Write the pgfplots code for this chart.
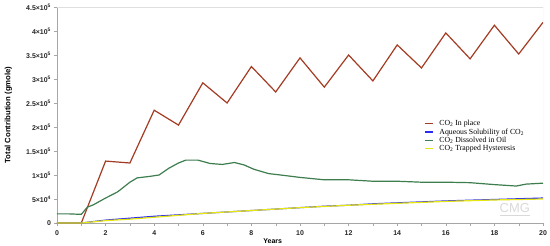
\documentclass[border=0pt]{standalone}
\usepackage{fontspec}
\setmainfont{Liberation Serif}
\setsansfont{Liberation Sans}
\usepackage{pgfplots}
\pgfplotsset{compat=1.18}
\usetikzlibrary{calc}
\definecolor{inplace}{HTML}{A33A22}
\definecolor{aqueous}{HTML}{2A2AF0}
\definecolor{oil}{HTML}{3E7D4E}
\definecolor{trapped}{HTML}{E6E612}

\begin{document}
\begin{tikzpicture}
\begin{axis}[
  name=ax,
  scale only axis,
  width=486bp, height=216bp,
  xmin=0, xmax=20, ymin=0, ymax=4.5e5,
  axis x line*=bottom, axis y line*=left,
  axis line style={gray!70, line width=0.5pt},
  tick align=outside, tick style={gray!70, line width=0.4pt},
  major tick length=2.5bp, minor tick length=2.5bp,
  xtick={0,2,...,20}, minor xtick={1,3,...,19},
  xticklabels={0,2,4,6,8,10,12,14,16,18,20},
  ytick={0,50000,100000,150000,200000,250000,300000,350000,400000,450000},
  yticklabels={0,5×10\textsuperscript{4},1×10\textsuperscript{5},1.5×10\textsuperscript{5},2×10\textsuperscript{5},2.5×10\textsuperscript{5},3×10\textsuperscript{5},3.5×10\textsuperscript{5},4×10\textsuperscript{5},4.5×10\textsuperscript{5}},
  scaled y ticks=false,
  tick label style={font=\sffamily\bfseries\fontsize{7}{8}\selectfont, text=black!85},
  xticklabel style={yshift=-1.5bp},
  xlabel={Years}, ylabel={Total Contribution (gmole)},
  xlabel style={font=\sffamily\bfseries\fontsize{7}{8}\selectfont,
    at={(axis description cs:0.444,0)}, anchor=center, yshift=-18bp},
  ylabel style={font=\sffamily\bfseries\fontsize{7.8}{9}\selectfont,
    at={(axis description cs:-0.1,0.5)}, anchor=center, rotate=0},
  legend style={at={(0.755,0.477)}, anchor=north west, draw=none, fill=none,
    inner sep=0pt, font=\fontsize{7.8}{8}\selectfont,
    nodes={inner sep=0pt, text height=5.6bp, text depth=1.4bp},
    row sep=1.3bp,
    /tikz/every odd column/.append style={column sep=6bp}},
  legend cell align=left,
  legend image code/.code={\draw[#1, line width=1.3bp] (0bp,0bp) -- (8bp,0bp);},
]
\draw[gray!25, line width=0.5pt] (rel axis cs:0,1) -- (rel axis cs:1,1) -- (rel axis cs:1,0);
\node[font=\sffamily\fontsize{13}{13}\selectfont, text=gray!30, inner sep=0pt] at (rel axis cs:0.942,0.068) {CMG};
\draw[gray!30, line width=0.7pt] (rel axis cs:0.911,0.037) -- (rel axis cs:0.973,0.037);

% CO2 in place
\addplot[color=inplace, line width=1.2bp] coordinates {
  (0,0)(1,0)(2,129000)(3,125000)(4,235000)(5,204000)(6,292000)(7,250000)
  (8,326000)(9,273000)(10,344000)(11,283000)(12,350000)(13,296000)
  (14,371000)(15,323000)(16,396000)(17,342000)(18,412000)(19,352000)(20,418000)};
\addlegendentry{CO\textsubscript{2} In place}

% aqueous solubility
\addplot[color=aqueous, line width=1.2bp] coordinates {
  (0,0)(1,0)(2,6000)(3,10000)(4,14000)(5,17000)(6,20000)(7,23000)(8,26000)
  (9,29000)(10,32000)(11,35000)(12,37000)(13,40000)(14,42000)(15,44000)
  (16,46000)(17,47500)(18,49000)(19,50500)(20,52000)};
\addlegendentry{Aqueous Solubility of CO\textsubscript{2}}

% dissolved in oil
\addplot[color=oil, line width=1.2bp] coordinates {
  (0,19000)(0.5,19000)(1,18000)(1.25,33000)(1.5,38000)(2,52000)(2.5,65000)
  (3,85000)(3.3,94000)(3.8,97000)(4.2,100000)(4.6,114000)(5,125000)
  (5.3,131000)(5.8,131000)(6.3,124000)(6.8,122000)(7.3,126000)(7.7,121000)
  (8.1,112000)(8.7,103000)(9.2,100000)(10,95000)(11,90000)(12,90000)
  (13,87000)(14,87000)(15,85000)(16,85000)(17,84000)(18,80000)(18.9,77000)
  (19.3,81000)(20,83000)};
\addlegendentry{CO\textsubscript{2} Dissolved in Oil}

% trapped hysteresis
\addplot[color=trapped, line width=1.2bp] coordinates {
  (0,0)(1,0)(2,5000)(3,8000)(4,12000)(5,16000)(6,20000)(7,23000)(8,26000)
  (9,29000)(10,32000)(11,34500)(12,37000)(13,39000)(14,41000)(15,43000)
  (16,45000)(17,46500)(18,48000)(19,49000)(20,50000)};
\addlegendentry{CO\textsubscript{2} Trapped Hysteresis}
\end{axis}
\pgfresetboundingbox
\path ($(ax.south west)+(-57bp,-23bp)$) rectangle ($(ax.north east)+(7bp,7bp)$);
\end{tikzpicture}
\end{document}
